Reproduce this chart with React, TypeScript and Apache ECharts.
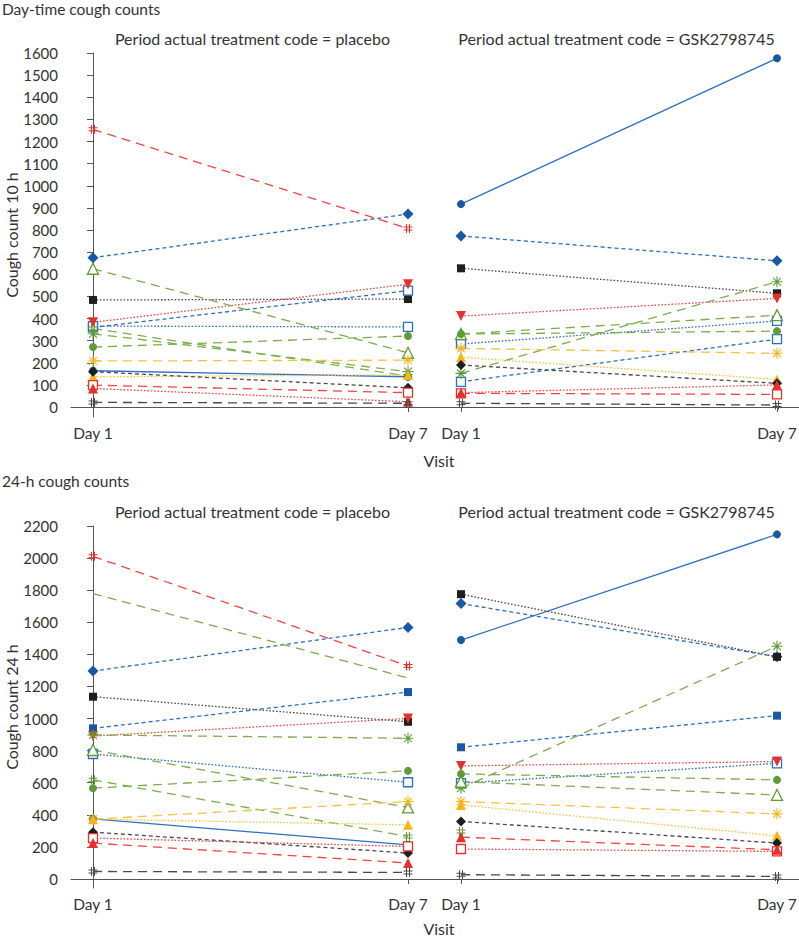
import React, { useEffect, useRef } from "react";
import * as echarts from "echarts";

// ---- Data ----
const visits = ["Day 1", "Day 7"];
const subjectKeys = [
  "blueCircleSolid", "blueDiamondDash", "blackSquareDot", "blueSquareDash", "blueOpenSquareDash",
  "blueOpenSquareDot", "redDownTriDot", "greenStarLong", "greenOpenTriLong", "greenHashLong",
  "greenCircleLong", "yellowStarLong", "yellowTriDot", "blackDiamondDash", "redOpenSquareLong",
  "redOpenSquareDot", "redTriDot", "redTriLong", "blackHashLong", "redHashLong", "greenPlainLong",
];
const dayTimePlaceboDay1 = [164, 675, 484, null, 360, 366, 383, 331, 625, 355, 271, 208, 137, 160, 99, null, 84, null, 21, 1255, null];
const dayTimePlaceboDay7 = [137, 872, 488, null, 526, 362, 555, 160, 245, 140, 321, 212, 145, 87, 65, null, 24, null, 17, 807, null];
const dayTimeGskDay1 = [917, 773, 627, null, 114, 285, 411, 152, 330, null, 330, 265, 225, 190, 62, null, 65, null, 17, null, null];
const dayTimeGskDay7 = [1576, 661, 514, null, 307, 389, 491, 566, 415, null, 343, 243, 125, 107, 57, null, 100, null, 9, null, null];
const fullDayPlaceboDay1 = [375, 1296, 1136, 939, null, 779, 891, 898, 804, 618, 566, 373, 373, 292, null, 255, null, 224, 47, 2011, 1779];
const fullDayPlaceboDay7 = [213, 1568, 980, 1165, null, 603, 1001, 877, 446, 265, 674, 483, 338, 162, null, 203, null, 100, 41, 1327, 1253];
const fullDayGskDay1 = [1489, 1717, 1775, 821, null, 597, 705, 566, 607, 296, 655, 483, 462, 359, null, 187, null, 261, 27, null, null];
const fullDayGskDay7 = [2148, 1385, 1385, 1018, null, 721, 732, 1451, 524, null, 618, 406, 269, 224, null, 172, null, 182, 16, null, null];
const dayTimeTicks = [0, 100, 200, 300, 400, 500, 600, 700, 800, 900, 1000, 1100, 1200, 1300, 1400, 1500, 1600];
const fullDayTicks = [0, 200, 400, 600, 800, 1000, 1200, 1400, 1600, 1800, 2000, 2200];

// ---- Styles ----
const DB = "#1858a5", BL = "#2f6fc1", RD = "#e5302b", RL = "#ee4640", GR = "#5f9b36", GL = "#7bad4c";
const YE = "#f6b51b", YL = "#f8c13f", BK = "#1f1f1f", KL = "#4a4a4a";
const LONG = [9, 6], SHORT = [4, 3], DOT = [1.6, 1.8];
const STAR = "path://M9,0L11,0L11,20L9,20Z M0,9L20,9L20,11L0,11Z M2.2,3.6L3.6,2.2L17.8,16.4L16.4,17.8Z M16.4,2.2L17.8,3.6L3.6,17.8L2.2,16.4Z";
const HASH = "path://M6,1L8,1L8,19L6,19Z M12,1L14,1L14,19L12,19Z M1,6L19,6L19,8L1,8Z M1,12L19,12L19,14L1,14Z";

type St = { symbol: string; size: number; fill: string; border?: string; line: string; dash: any; rotate?: number };
const styles: Record<string, St> = {
  blueCircleSolid: { symbol: "circle", size: 8, fill: DB, line: BL, dash: "solid" },
  blueDiamondDash: { symbol: "diamond", size: 11, fill: DB, line: BL, dash: SHORT },
  blackSquareDot: { symbol: "rect", size: 8, fill: BK, line: KL, dash: DOT },
  blueSquareDash: { symbol: "rect", size: 8, fill: DB, line: BL, dash: SHORT },
  blueOpenSquareDash: { symbol: "rect", size: 9, fill: "#fff", border: BL, line: BL, dash: SHORT },
  blueOpenSquareDot: { symbol: "rect", size: 9, fill: "#fff", border: BL, line: BL, dash: DOT },
  redDownTriDot: { symbol: "triangle", size: 10, fill: RD, line: RL, dash: DOT, rotate: 180 },
  greenStarLong: { symbol: STAR, size: 11, fill: GR, line: GL, dash: LONG },
  greenOpenTriLong: { symbol: "triangle", size: 11, fill: "#fff", border: GR, line: GL, dash: LONG },
  greenHashLong: { symbol: HASH, size: 9, fill: GR, line: GL, dash: LONG },
  greenCircleLong: { symbol: "circle", size: 8, fill: GR, line: GL, dash: LONG },
  yellowStarLong: { symbol: STAR, size: 11, fill: YE, line: YL, dash: LONG },
  yellowTriDot: { symbol: "triangle", size: 10, fill: YE, line: YL, dash: DOT },
  blackDiamondDash: { symbol: "diamond", size: 10, fill: BK, line: KL, dash: SHORT },
  redOpenSquareLong: { symbol: "rect", size: 9, fill: "#fff", border: RD, line: RL, dash: LONG },
  redOpenSquareDot: { symbol: "rect", size: 9, fill: "#fff", border: RD, line: RL, dash: DOT },
  redTriDot: { symbol: "triangle", size: 10, fill: RD, line: RL, dash: DOT },
  redTriLong: { symbol: "triangle", size: 10, fill: RD, line: RL, dash: LONG },
  blackHashLong: { symbol: HASH, size: 9, fill: KL, line: KL, dash: LONG },
  redHashLong: { symbol: HASH, size: 9, fill: RD, line: RL, dash: LONG },
  greenPlainLong: { symbol: "none", size: 0, fill: GL, line: GL, dash: LONG },
};

const FONT = "Lato";
const TXT = "#333";
const AX = "#555";

function buildOption() {
  const panels = [
    { idx: 0, d1: dayTimePlaceboDay1, d7: dayTimePlaceboDay7 },
    { idx: 1, d1: dayTimeGskDay1, d7: dayTimeGskDay7 },
    { idx: 2, d1: fullDayPlaceboDay1, d7: fullDayPlaceboDay7 },
    { idx: 3, d1: fullDayGskDay1, d7: fullDayGskDay7 },
  ];
  const series: any[] = [];
  panels.forEach((p) => {
    subjectKeys.forEach((k, i) => {
      const a = p.d1[i], b = p.d7[i];
      if (a == null && b == null) return;
      const s = styles[k];
      const data: any[] = [];
      if (a != null) data.push([0, a]);
      if (b != null) data.push([1, b]);
      series.push({
        type: "line",
        name: k,
        xAxisIndex: p.idx,
        yAxisIndex: p.idx,
        data,
        symbol: s.symbol,
        symbolSize: s.size,
        symbolRotate: s.rotate || 0,
        showSymbol: s.symbol !== "none",
        lineStyle: { color: s.line, width: 1.3, type: s.dash },
        itemStyle: {
          color: s.fill,
          borderColor: s.border || s.fill,
          borderWidth: s.border ? 1.3 : 0,
        },
        emphasis: { disabled: true },
        silent: true,
        clip: false,
        z: 3,
      });
    });
  });

  const xRanges = [
    { min: -0.0698, max: 1.0825 },
    { min: -0.0854, max: 1.0696 },
    { min: -0.0698, max: 1.0825 },
    { min: -0.0854, max: 1.0696 },
  ];
  const xAxis = xRanges.map((r, i) => ({
    type: "value",
    gridIndex: i,
    min: r.min,
    max: r.max,
    axisLine: { show: true, lineStyle: { color: AX, width: 1 } },
    axisTick: { show: true, length: 5, customValues: [0, 1], lineStyle: { color: AX } },
    axisLabel: {
      customValues: [0, 1],
      formatter: (v: number) => visits[Math.round(v)],
      fontFamily: FONT,
      fontSize: 15.5,
      color: TXT,
      margin: 8,
    },
    splitLine: { show: false },
  }));

  const yDefs = [
    { min: -45, max: 1600, ticks: dayTimeTicks, name: "Cough count 10 h", show: true },
    { min: -45, max: 1600, ticks: dayTimeTicks, name: "", show: false },
    { min: -56, max: 2200, ticks: fullDayTicks, name: "Cough count 24 h", show: true },
    { min: -56, max: 2200, ticks: fullDayTicks, name: "", show: false },
  ];
  const yAxis = yDefs.map((d, i) => ({
    type: "value",
    gridIndex: i,
    min: d.min,
    max: d.max,
    show: d.show,
    name: d.name,
    nameLocation: "middle",
    nameGap: 51,
    nameTextStyle: { fontFamily: FONT, fontSize: 16, color: TXT },
    axisLine: { show: true, lineStyle: { color: AX, width: 1 } },
    axisTick: { show: true, length: 6, customValues: d.ticks, lineStyle: { color: AX } },
    axisLabel: {
      customValues: d.ticks,
      formatter: (v: number) => String(Math.round(v)),
      fontFamily: FONT,
      fontSize: 15,
      color: TXT,
      margin: 13,
    },
    splitLine: { show: false },
  }));

  const grid = [
    { left: 71, top: 53, width: 363, height: 364 },
    { left: 434, top: 53, width: 365, height: 364 },
    { left: 71, top: 526, width: 363, height: 362 },
    { left: 434, top: 526, width: 365, height: 362 },
  ].map((g) => ({ ...g, containLabel: false, outerBoundsMode: "none" }));

  const txt = (text: string, x: number, y: number, align: string, size: number) => ({
    type: "text",
    x,
    y,
    style: { text, x: 0, y: 0, align, verticalAlign: "middle", fontFamily: FONT, fontSize: size, fill: TXT },
    silent: true,
  });

  const graphic = [
    txt("Day-time cough counts", 2, 9, "left", 15.5),
    txt("Period actual treatment code = placebo", 252.5, 38, "center", 16),
    txt("Period actual treatment code = GSK2798745", 616.5, 38, "center", 16),
    txt("Visit", 439, 460, "center", 16),
    txt("24-h cough counts", 2, 481, "left", 15.5),
    txt("Period actual treatment code = placebo", 252.5, 511, "center", 16),
    txt("Period actual treatment code = GSK2798745", 616.5, 511, "center", 16),
    txt("Visit", 439, 928, "center", 16),
  ];

  return { animation: false, textStyle: { fontFamily: FONT }, grid, xAxis, yAxis, series, graphic };
}

export default function App() {
  const ref = useRef<HTMLDivElement>(null);
  useEffect(() => {
    document.body.style.margin = "0";
    const chart = echarts.init(ref.current!, null, { renderer: "svg" });
    chart.setOption(buildOption() as any);
    return () => chart.dispose();
  }, []);
  return <div ref={ref} style={{ width: 799, height: 939, background: "#fff" }} />;
}
